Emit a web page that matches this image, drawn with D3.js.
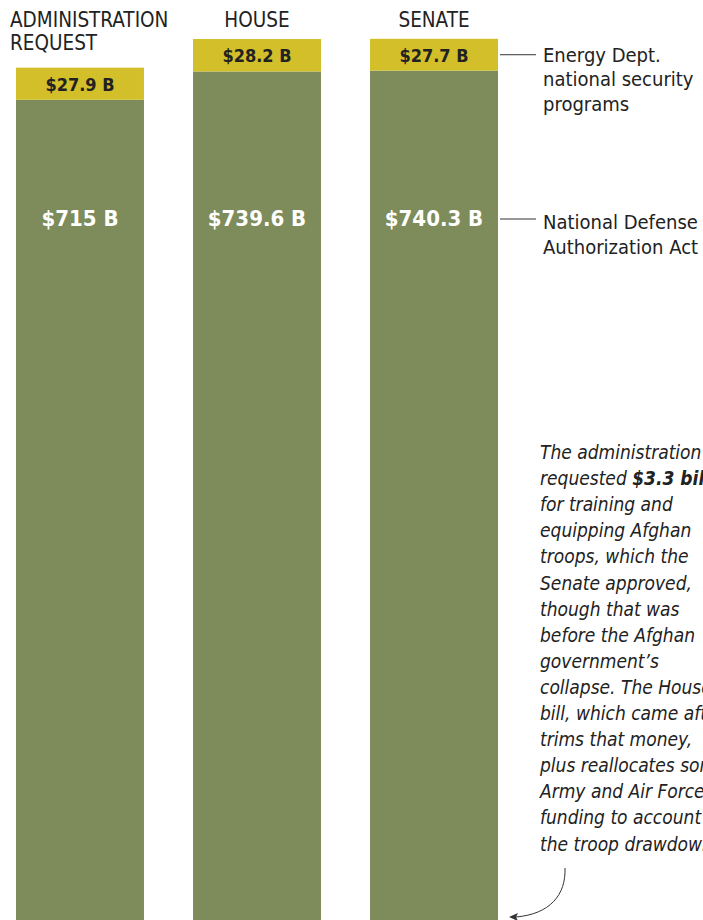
<!DOCTYPE html>
<html>
<head>
<meta charset="utf-8">
<script src="https://cdn.jsdelivr.net/npm/d3@7"></script>
<style>
  body { margin: 0; background: #fff; }
  svg { display: block; font-family: "DejaVu Sans Condensed", "DejaVu Sans", sans-serif; }
</style>
</head>
<body>
<svg id="chart" width="703" height="920"></svg>
<script>
const categories = ["ADMINISTRATION REQUEST", "HOUSE", "SENATE"];
const ndaa = [715, 739.6, 740.3];
const energy = [27.9, 28.2, 27.7];
const ndaaLabels = ["$715 B", "$739.6 B", "$740.3 B"];
const energyLabels = ["$27.9 B", "$28.2 B", "$27.7 B"];
const noteLines = [
  ["The administration"],
  ["requested ", "$3.3 billion"],
  ["for training and"],
  ["equipping Afghan"],
  ["troops, which the"],
  ["Senate approved,"],
  ["though that was"],
  ["before the Afghan"],
  ["government\u2019s"],
  ["collapse. The House"],
  ["bill, which came after,"],
  ["trims that money,"],
  ["plus reallocates some"],
  ["Army and Air Force"],
  ["funding to account for"],
  ["the troop drawdown."]
];

const svg = d3.select("#chart");
const green = "#7e8c5c", yellow = "#d2bf2a";

const x = d3.scaleBand().domain(categories).range([16, 498]).paddingInner(0.277).paddingOuter(0);
const y = d3.scaleLinear().domain([0, 800]).range([922, 922 - 800 * 1.15]);

const data = categories.map((c, i) => ({ c, n: ndaa[i], e: energy[i], nl: ndaaLabels[i], el: energyLabels[i] }));

// bars
svg.selectAll(".ndaa").data(data).join("rect")
  .attr("x", d => x(d.c)).attr("width", x.bandwidth())
  .attr("y", d => y(d.n)).attr("height", d => y(0) - y(d.n))
  .attr("fill", green);
svg.selectAll(".energy").data(data).join("rect")
  .attr("x", d => x(d.c)).attr("width", x.bandwidth())
  .attr("y", d => y(d.n + d.e)).attr("height", d => y(d.n) - y(d.n + d.e))
  .attr("fill", yellow);

// value labels
svg.selectAll(".elab").data(data).join("text")
  .attr("x", d => x(d.c) + x.bandwidth() / 2)
  .attr("y", d => (y(d.n) + y(d.n + d.e)) / 2 + 7)
  .attr("text-anchor", "middle").attr("font-size", 18).attr("font-weight", "bold")
  .attr("fill", "#222").text(d => d.el);
svg.selectAll(".nlab").data(data).join("text")
  .attr("x", d => x(d.c) + x.bandwidth() / 2)
  .attr("y", 226)
  .attr("text-anchor", "middle").attr("font-size", 22).attr("font-weight", "bold")
  .attr("fill", "#fff").text(d => d.nl);

// headers
const head = svg.append("g").attr("font-size", 20.5).attr("fill", "#222");
head.append("text").attr("x", 10).attr("y", 27).text("ADMINISTRATION");
head.append("text").attr("x", 10).attr("y", 50).text("REQUEST");
head.append("text").attr("x", x("HOUSE") + x.bandwidth() / 2).attr("y", 27).attr("text-anchor", "middle").text("HOUSE");
head.append("text").attr("x", x("SENATE") + x.bandwidth() / 2).attr("y", 27).attr("text-anchor", "middle").text("SENATE");

// legend annotations
const s = data[2];
const right = x("SENATE") + x.bandwidth();
const ey = (y(s.n) + y(s.n + s.e)) / 2;
svg.append("line").attr("x1", right + 2).attr("x2", right + 38).attr("y1", ey).attr("y2", ey).attr("stroke", "#333");
svg.append("line").attr("x1", right + 2).attr("x2", right + 38).attr("y1", 219).attr("y2", 219).attr("stroke", "#333");
const ann = svg.append("g").attr("font-size", 20).attr("fill", "#222");
["Energy Dept.", "national security", "programs"].forEach((t, i) =>
  ann.append("text").attr("x", 543).attr("y", ey + 7 + i * 24.5).text(t));
["National Defense", "Authorization Act"].forEach((t, i) =>
  ann.append("text").attr("x", 543).attr("y", 229 + i * 25).text(t));

// note
const note = svg.append("g").attr("font-size", 19).attr("font-style", "italic").attr("fill", "#222");
noteLines.forEach((parts, i) => {
  const t = note.append("text").attr("x", 540).attr("y", 459 + i * 26.1);
  parts.forEach((p, j) => t.append("tspan").attr("font-weight", j === 1 ? "bold" : null).text(p));
});

// arrow
svg.append("path")
  .attr("d", "M565,868 C566,895 550,914 516,917")
  .attr("fill", "none").attr("stroke", "#333").attr("stroke-width", 1);
svg.append("path")
  .attr("d", "M509,917 L518,913 L516,917 L518,921 Z")
  .attr("fill", "#333");
</script>
</body>
</html>
